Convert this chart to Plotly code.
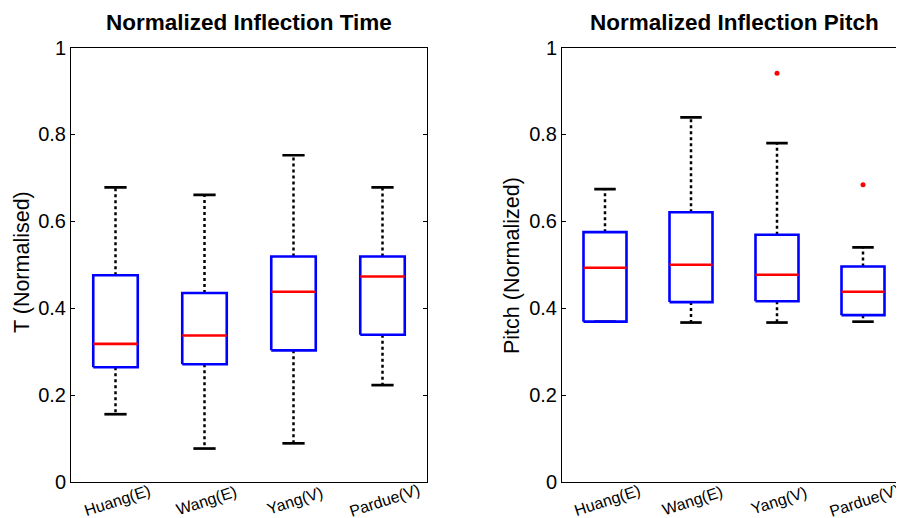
import plotly.graph_objects as go

# ---------------- data ----------------
categories = ["Huang(E)", "Wang(E)", "Yang(V)", "Pardue(V)"]

time_lower = [0.156, 0.077, 0.089, 0.223]
time_q1 = [0.264, 0.271, 0.303, 0.339]
time_median = [0.318, 0.337, 0.438, 0.473]
time_q3 = [0.476, 0.435, 0.519, 0.519]
time_upper = [0.678, 0.661, 0.752, 0.678]
time_outlier_cat = []
time_outlier_val = []

pitch_lower = [0.369, 0.367, 0.367, 0.369]
pitch_q1 = [0.369, 0.414, 0.416, 0.384]
pitch_median = [0.493, 0.500, 0.477, 0.438]
pitch_q3 = [0.575, 0.621, 0.569, 0.496]
pitch_upper = [0.674, 0.839, 0.780, 0.540]
pitch_outlier_cat = [3, 4]
pitch_outlier_val = [0.941, 0.684]

y_tickvals = [0, 0.2, 0.4, 0.6, 0.8, 1]
y_ticktext = ["0", "0.2", "0.4", "0.6", "0.8", "1"]

titles = ["Normalized Inflection Time", "Normalized Inflection Pitch"]
y_titles = ["T (Normalised)", "Pitch (Normalized)"]

# ---------------- layout helpers ----------------
# The page body adds an 8px margin, so the figure is drawn 8px in from the window corner.
OFF = 8
W, H = 904 - OFF, 518 - OFF
FONT = "Liberation Sans, Arial, Helvetica, sans-serif"


def px_x(p):
    return (p - OFF) / W


def px_y(p):
    return (H - (p - OFF)) / H


fig = go.Figure()

BOX_HALF = 0.25
CAP_HALF = 0.125


def add_boxes(xa, ya, lower, q1, med, q3, upper, out_cat, out_val):
    wx, wy = [], []
    cx, cy = [], []
    bx, by = [], []
    mx, my = [], []
    for i in range(len(categories)):
        x = i + 1
        wx += [x, x, None, x, x, None]
        wy += [q3[i], upper[i], None, q1[i], lower[i], None]
        cx += [x - CAP_HALF, x + CAP_HALF, None, x - CAP_HALF, x + CAP_HALF, None]
        cy += [upper[i], upper[i], None, lower[i], lower[i], None]
        bx += [x - BOX_HALF, x + BOX_HALF, x + BOX_HALF, x - BOX_HALF, x - BOX_HALF, None]
        by += [q1[i], q1[i], q3[i], q3[i], q1[i], None]
        mx += [x - BOX_HALF, x + BOX_HALF, None]
        my += [med[i], med[i], None]
    common = dict(xaxis=xa, yaxis=ya, mode="lines", showlegend=False, hoverinfo="skip")
    fig.add_trace(go.Scatter(x=wx, y=wy, line=dict(color="black", width=2.5, dash="3px,3px"), **common))
    fig.add_trace(go.Scatter(x=cx, y=cy, line=dict(color="black", width=2.7), **common))
    fig.add_trace(go.Scatter(x=bx, y=by, line=dict(color="#0000ff", width=2.6), **common))
    fig.add_trace(go.Scatter(x=mx, y=my, line=dict(color="#ff0000", width=2.6), **common))
    if out_cat:
        fig.add_trace(go.Scatter(x=out_cat, y=out_val, xaxis=xa, yaxis=ya, mode="markers",
                                 marker=dict(color="#ff0000", size=5), showlegend=False,
                                 hoverinfo="skip"))


add_boxes("x", "y", time_lower, time_q1, time_median, time_q3, time_upper,
          time_outlier_cat, time_outlier_val)
add_boxes("x2", "y2", pitch_lower, pitch_q1, pitch_median, pitch_q3, pitch_upper,
          pitch_outlier_cat, pitch_outlier_val)

xcommon = dict(showline=True, linecolor="black", linewidth=1, mirror=True,
               showgrid=False, zeroline=False, showticklabels=False, ticks="",
               fixedrange=True)
ycommon = dict(range=[0, 1], tickvals=y_tickvals, ticktext=y_ticktext,
               ticks="inside", ticklen=4, tickwidth=1, tickcolor="black",
               showline=True, linecolor="black", linewidth=1, mirror="ticks",
               showgrid=False, zeroline=False,
               tickfont=dict(family=FONT, size=20, color="black"),
               domain=[px_y(482), px_y(47.5)], automargin=False, fixedrange=True)

fig.update_layout(
    width=W, height=H,
    margin=dict(l=0, r=0, t=0, b=0),
    paper_bgcolor="white", plot_bgcolor="white",
    xaxis=dict(domain=[px_x(71), px_x(427)], range=[0.5, 4.5], anchor="y", **xcommon),
    yaxis=dict(anchor="x", **ycommon),
    xaxis2=dict(domain=[px_x(562), 1.0], range=[0.5, 4.5 - 2 / 86], anchor="y2", **xcommon),
    yaxis2=dict(anchor="x2", **ycommon),
    font=dict(family=FONT, color="black"),
)

annotations = []
# titles
for t, cxp in zip(titles, [249, 734]):
    annotations.append(dict(text="<b>%s</b>" % t, xref="paper", yref="paper",
                            x=px_x(cxp), y=px_y(22), xanchor="center", yanchor="middle",
                            showarrow=False, font=dict(family=FONT, size=22.5, color="black")))
# y-axis titles
for t, xp, yp in zip(y_titles, [22, 512], [262, 266]):
    annotations.append(dict(text=t, xref="paper", yref="paper", x=px_x(xp), y=px_y(yp),
                            xanchor="center", yanchor="middle", textangle=-90,
                            showarrow=False, font=dict(family=FONT, size=21.5, color="black")))
# rotated category labels
for xref in ["x", "x2"]:
    for i, c in enumerate(categories):
        annotations.append(dict(text=c, xref=xref, yref="paper", x=i + 1 + 0.02, y=px_y(500),
                                xanchor="center", yanchor="middle", textangle=-18,
                                showarrow=False, font=dict(family=FONT, size=16, color="black")))
fig.update_layout(annotations=annotations)

fig.write_html("out.html")
